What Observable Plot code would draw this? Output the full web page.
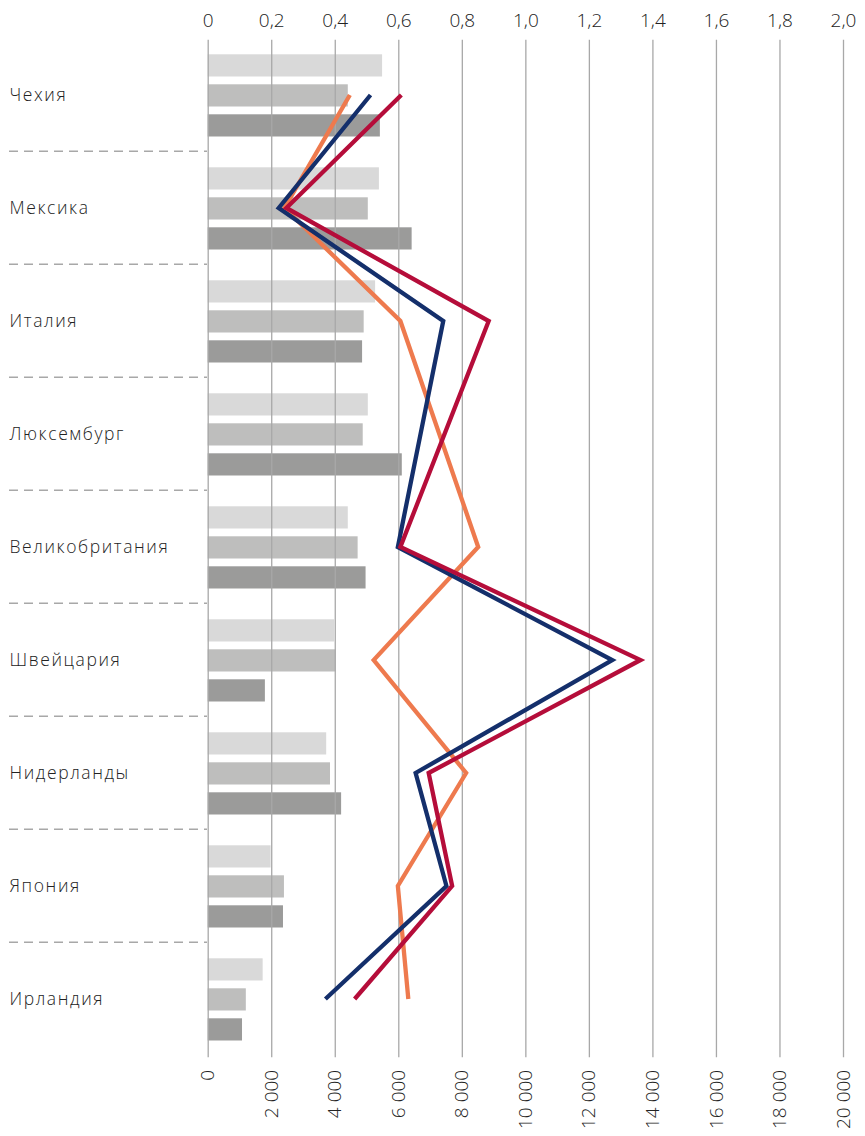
<!DOCTYPE html>
<html><head><meta charset="utf-8">
<script src="https://cdn.jsdelivr.net/npm/d3@7"></script>
<script src="https://cdn.jsdelivr.net/npm/@observablehq/plot@0.6"></script>
<style>
html,body{margin:0;padding:0;background:#fff;}
#chart svg{display:block;}
#chart g[aria-label="y-axis tick label"] text{letter-spacing:1.6px;}
</style></head><body><div id="chart"></div>
<script>
const categories = ["Чехия","Мексика","Италия","Люксембург","Великобритания","Швейцария","Нидерланды","Япония","Ирландия"];
const barLight  = [5490, 5390, 5270, 5040, 4410, 3980, 3730, 1980, 1730];
const barMedium = [4410, 5040, 4910, 4880, 4720, 4030, 3850, 2400, 1200];
const barDark   = [5420, 6420, 4860, 6110, 4970, 1800, 4200, 2370, 1080];
const lineOrange  = [0.446, 0.240, 0.605, null, 0.850, 0.521, 0.812, 0.597, 0.630];
const lineNavy    = [0.511, 0.222, 0.740, null, 0.597, 1.272, 0.653, 0.750, 0.369];
const lineCrimson = [0.608, 0.246, 0.883, null, 0.605, 1.361, 0.694, 0.768, 0.461];
const bottomTicks = [0, 2000, 4000, 6000, 8000, 10000, 12000, 14000, 16000, 18000, 20000];
const bottomTickLabels = ["0","2 000","4 000","6 000","8 000","10 000","12 000","14 000","16 000","18 000","20 000"];
const topTickLabels = ["0","0,2","0,4","0,6","0,8","1,0","1,2","1,4","1,6","1,8","2,0"];
const lineRatio = 10000; // top axis (0–2,0) shares the bottom axis (0–20 000)

const bars = (arr) => categories.map((c, i) => ({c, v: arr[i]}));
const line = (arr) => categories.map((c, i) => ({c, v: arr[i]})).filter(d => d.v != null);

const W = 865, H = 1136;
const mT = 35.8, mB = 78.7;
const band = (H - mT - mB) / categories.length;
const lineStyle = {strokeWidth: 4.3, strokeLinejoin: "miter", strokeLinecap: "butt", strokeMiterlimit: 10};

const chart = Plot.plot({
  width: W, height: H,
  marginLeft: 207.7, marginRight: 22, marginTop: mT, marginBottom: mB,
  style: {fontFamily: "'Open Sans', 'Liberation Sans', sans-serif", color: "#222", background: "#fff"},
  x: {domain: [0, 20000], axis: null},
  y: {domain: categories, type: "band", padding: 0, axis: null},
  marks: [
    Plot.barX(bars(barLight),  {x: "v", y: "c", fill: "#d9d9d9", insetTop: 16.3, insetBottom: 74.5}),
    Plot.barX(bars(barMedium), {x: "v", y: "c", fill: "#bebebd", insetTop: 46.3, insetBottom: 44.5}),
    Plot.barX(bars(barDark),   {x: "v", y: "c", fill: "#9b9b9a", insetTop: 76.3, insetBottom: 14.5}),
    Plot.gridX(bottomTicks, {stroke: "#a8a8a8", strokeOpacity: 1, strokeWidth: 1.3, insetTop: 4}),
    Plot.ruleY(categories.slice(1), {y: d => d, stroke: "#a8a8a8", strokeWidth: 1.3, strokeDasharray: "9,6",
      dy: -band / 2, insetLeft: -198.7, insetRight: 636}),
    Plot.line(line(lineOrange),  {x: d => d.v * lineRatio, y: "c", stroke: "#ee7a4e", ...lineStyle}),
    Plot.line(line(lineNavy),    {x: d => d.v * lineRatio, y: "c", stroke: "#142f6b", ...lineStyle}),
    Plot.line(line(lineCrimson), {x: d => d.v * lineRatio, y: "c", stroke: "#b50d3a", ...lineStyle}),
    Plot.axisX({anchor: "top", label: null, ticks: bottomTicks, tickSize: 0, tickPadding: 9, fontSize: 19, fontWeight: 300,
      tickFormat: d => topTickLabels[bottomTicks.indexOf(d)]}),
    Plot.axisX({anchor: "bottom", label: null, ticks: bottomTicks, tickSize: 0, tickPadding: 12, tickRotate: -90, fontSize: 19, fontWeight: 300,
      tickFormat: d => bottomTickLabels[bottomTicks.indexOf(d)]}),
    Plot.axisY({anchor: "left", label: null, tickSize: 0, tickPadding: 198.7, textAnchor: "start", fontSize: 17.5, fontWeight: 300})
  ]
});
document.getElementById("chart").appendChild(chart);
</script></body></html>
